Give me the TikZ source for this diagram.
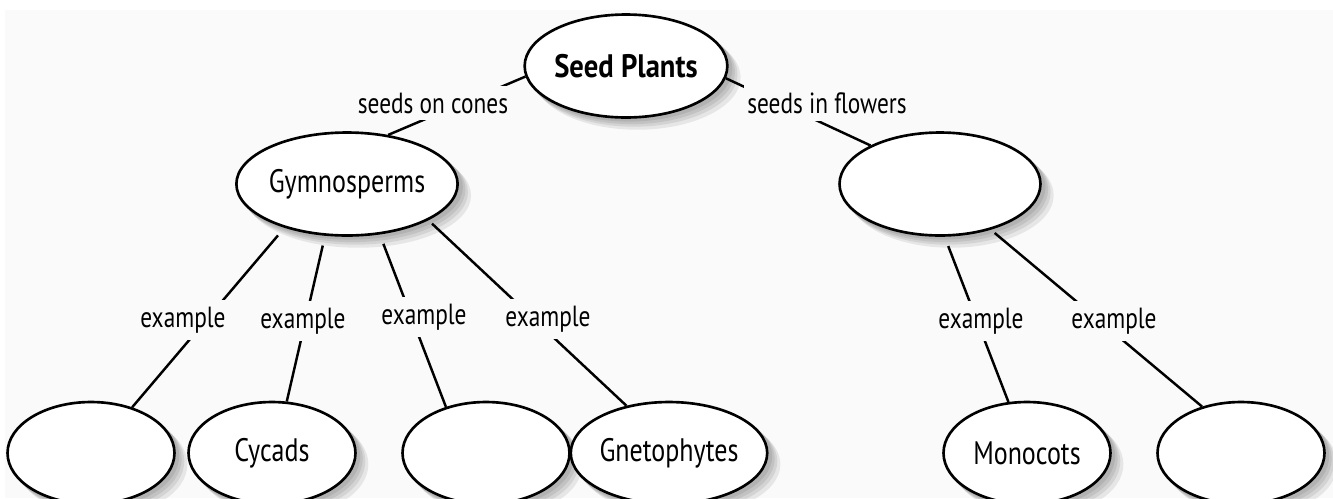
\documentclass[tikz,border=0pt]{standalone}
\usepackage{fontspec}
\setmainfont[FakeStretch=0.8, BoldFeatures={FakeStretch=0.88}]{PT Sans}
\usepackage{tikz}
\usetikzlibrary{shapes.geometric, shadows}
\definecolor{paper}{HTML}{FAFAFA}
\newcommand{\mapfont}{\fontsize{16.6pt}{19pt}\selectfont}
\newcommand{\blobfont}{\fontsize{18.5pt}{21pt}\selectfont}
\tikzset{
    haze/.style={general shadow={shadow xshift=#1, shadow yshift=-#1,
        shadow scale=1.02, fill=black, opacity=.08}},
    blob/.style={ellipse, draw, line width=1.5pt, fill=white, inner sep=0pt,
      font=\blobfont, haze=0.22cm, haze=0.16cm, haze=0.11cm, haze=0.06cm},
    bigblob/.style={blob, minimum width=4.02cm, minimum height=2.06cm},
    leaf/.style={blob, minimum width=3.34cm, minimum height=2.04cm},
    link/.style={line width=1.4pt},
    tag/.style={fill=paper, inner xsep=2pt, inner ysep=4pt, font=\mapfont},
}

\begin{document}
\begin{tikzpicture}[x=0.02cm, y=-0.02cm]
    \useasboundingbox (0,0) rectangle (1333,498);
    \fill[white] (0,0) rectangle (1333,498);
    \fill[paper] (5,10) rectangle (1333,498);

    \node[bigblob, font=\blobfont\bfseries] (sp) at (626,66) {Seed Plants};
    \node[bigblob] (gym) at (347,184) {Gymnosperms};
    \node[bigblob] (ang) at (940,184) {};

    \node[leaf] (e1) at (91,453) {};
    \node[leaf] (cyc) at (272,453) {Cycads};
    \node[leaf] (e2) at (486,453) {};
    \node[leaf] (gne) at (669,453) {Gnetophytes};
    \node[leaf] (mono) at (1027,453) {Monocots};
    \node[leaf] (e3) at (1241,453) {};

    \draw[link] (sp.186) -- (gym.50);
    \draw[link] (sp.353) -- (ang.151);
    \draw[link, shorten <=0.2cm] (gym.215) -- (e1.48);
    \draw[link, shorten <=0.2cm] (gym.247) -- (cyc.74);
    \draw[link, shorten <=0.2cm] (gym.303) -- (e2.131);
    \draw[link, shorten <=0.1cm] (gym.336) -- (gne.132);
    \draw[link, shorten <=0.2cm] (ang.275) -- (mono.110);
    \draw[link, shorten <=0.1cm] (ang.318) -- (e3.130);

    \node[tag] (cones) at (433,103) {seeds on cones};
    \node[tag] (flowers) at (827,103) {seeds in flowers};
    \node[tag] (ex1) at (183,320) {example};
    \node[tag] (ex2) at (303,321) {example};
    \node[tag] (ex3) at (424,317) {example};
    \node[tag] (ex4) at (548,319) {example};
    \node[tag] (ex5) at (981,321) {example};
    \node[tag] (ex6) at (1114,321) {example};
\end{tikzpicture}
\end{document}
